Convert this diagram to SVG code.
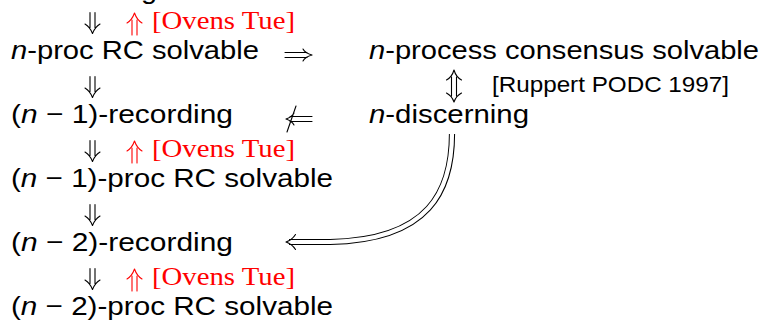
<svg xmlns="http://www.w3.org/2000/svg" xmlns:xlink="http://www.w3.org/1999/xlink" width="763" height="320" viewBox="0 0 763 320">
<style>
.t{font-family:"Liberation Sans",Arial,sans-serif;font-size:26px;fill:#000}
.s{font-family:"Liberation Sans",Arial,sans-serif;font-size:22px;fill:#000}
.r{font-family:"Liberation Serif","Times New Roman",serif;font-size:26px;fill:#f00}
.i{font-style:italic}
.a{fill:none;stroke:#000;stroke-width:1.1;stroke-linecap:round;stroke-linejoin:round}
.ar{fill:none;stroke:#f00;stroke-width:1.1;stroke-linecap:round;stroke-linejoin:round}
</style>
<defs>
<path id="dn" d="M5 0V15M10 0V15M0 11.5Q5 14.5 7.5 21Q10 14.5 15 11.5"/>
<path id="up" d="M5 7V22M10 7V22M0 10Q5 7 7.5 0Q10 7 15 10"/>
</defs>
<rect width="763" height="320" fill="#fff"/>
<g id="n0"><text class="t" x="11" y="-1" textLength="146" lengthAdjust="spacingAndGlyphs"><tspan class="i">n</tspan>-recording</text></g>
<g id="n1"><text class="t" x="11" y="59" textLength="248" lengthAdjust="spacingAndGlyphs"><tspan class="i">n</tspan>-proc RC solvable</text></g>
<g id="c1"><text class="t" x="369" y="59" textLength="390" lengthAdjust="spacingAndGlyphs"><tspan class="i">n</tspan>-process consensus solvable</text></g>
<g id="d1"><text class="t" x="369" y="123" textLength="160" lengthAdjust="spacingAndGlyphs"><tspan class="i">n</tspan>-discerning</text></g>
<g id="n2"><text class="t" x="11" y="123" textLength="222" lengthAdjust="spacingAndGlyphs">(<tspan class="i">n</tspan> − 1)-recording</text></g>
<g id="n3"><text class="t" x="11" y="187" textLength="322" lengthAdjust="spacingAndGlyphs">(<tspan class="i">n</tspan> − 1)-proc RC solvable</text></g>
<g id="n4"><text class="t" x="11" y="251" textLength="222" lengthAdjust="spacingAndGlyphs">(<tspan class="i">n</tspan> − 2)-recording</text></g>
<g id="n5"><text class="t" x="11" y="315" textLength="322" lengthAdjust="spacingAndGlyphs">(<tspan class="i">n</tspan> − 2)-proc RC solvable</text></g>
<g id="connectors">
<use xlink:href="#dn" class="a" x="85" y="12.5"/>
<use xlink:href="#dn" class="a" x="85" y="76.5"/>
<use xlink:href="#dn" class="a" x="85" y="140.5"/>
<use xlink:href="#dn" class="a" x="85" y="204.5"/>
<use xlink:href="#dn" class="a" x="85" y="268.5"/>
<use xlink:href="#up" class="ar" x="127" y="13"/>
<use xlink:href="#up" class="ar" x="127" y="141"/>
<use xlink:href="#up" class="ar" x="127" y="269"/>
<path class="a" d="M285 52.5H307M285 57.5H307M303 49Q305 53 312 55Q305 57 303 61"/>
<path class="a" d="M290 116.5H312M290 121.5H312M294 113Q292 117 286 119Q292 121 294 125M296 106L287 132"/>
<path class="a" d="M451.5 77V96M456.5 77V96M446.5 80Q452 77 454 70Q456 77 461.5 80M446.5 93Q452 96 454 102Q456 96 461.5 93"/>
<path d="M452 134C452 190 430 240 330 242H289" fill="none" stroke="#000" stroke-width="6.2"/>
<path d="M452 133C452 190 430 240 330 242H288" fill="none" stroke="#fff" stroke-width="4.2"/>
<path class="a" d="M295.5 234.5Q292 240 286 242Q292 244 295.5 249.5"/>
<text class="r" x="152" y="29" textLength="143" lengthAdjust="spacingAndGlyphs">[Ovens Tue]</text>
<text class="r" x="152" y="157" textLength="143" lengthAdjust="spacingAndGlyphs">[Ovens Tue]</text>
<text class="r" x="152" y="285" textLength="143" lengthAdjust="spacingAndGlyphs">[Ovens Tue]</text>
<text class="s" x="492" y="92" textLength="237" lengthAdjust="spacingAndGlyphs">[Ruppert PODC 1997]</text>
</g>
</svg>
